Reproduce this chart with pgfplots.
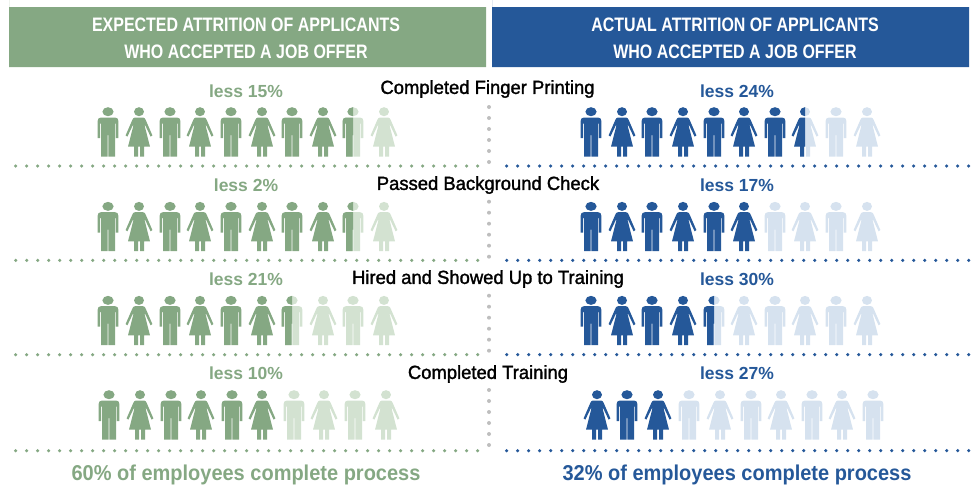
\documentclass[border=0pt]{standalone}
\usepackage{fontspec}
\usepackage{pgfplots}
\pgfplotsset{compat=1.18}
\setmainfont{Liberation Sans}
\newfontfamily\headf[FakeStretch=0.82]{Liberation Sans Bold}
\newfontfamily\lessf[FakeStretch=1.0]{Liberation Sans Bold}
\newfontfamily\stepf[FakeStretch=0.97,FakeBold=1.5]{Liberation Sans}
\newfontfamily\footf[FakeStretch=0.93]{Liberation Sans Bold}
\definecolor{gdark}{RGB}{133,168,131}
\definecolor{glight}{RGB}{211,226,209}
\definecolor{bdark}{RGB}{37,88,153}
\definecolor{blight}{RGB}{214,226,239}
\definecolor{gdot}{RGB}{190,190,190}
\newcommand\Mv[2]{\pgfpathmoveto{\pgfqpoint{#1pt}{#2pt}}}
\newcommand\Ln[2]{\pgfpathlineto{\pgfqpoint{#1pt}{#2pt}}}
\newcommand\Cv[6]{\pgfpathcurveto{\pgfqpoint{#1pt}{#2pt}}{\pgfqpoint{#3pt}{#4pt}}{\pgfqpoint{#5pt}{#6pt}}}
\newcommand\manpath{%
  \pgfpathellipse{\pgfqpoint{0pt}{20.3pt}}{\pgfqpoint{5.6pt}{0pt}}{\pgfqpoint{0pt}{4.5pt}}%
  \Mv{-0.4}{-3}\Ln{0.4}{-3}\Ln{0.4}{-24.5}\Ln{7}{-24.5}\Ln{7}{8.5}\Ln{7.8}{8.5}\Ln{7.8}{-6}\Ln{10.4}{-6}\Ln{10.4}{11}%
  \Cv{10.4}{13.3}{9}{14.5}{7}{14.5}\Ln{-7}{14.5}\Cv{-9}{14.5}{-10.4}{13.3}{-10.4}{11}%
  \Ln{-10.4}{-6}\Ln{-7.8}{-6}\Ln{-7.8}{8.5}\Ln{-7}{8.5}\Ln{-7}{-24.5}\Ln{-0.4}{-24.5}\pgfpathclose}
\newcommand\womanpath{%
  \pgfpathellipse{\pgfqpoint{0pt}{20.3pt}}{\pgfqpoint{5pt}{0pt}}{\pgfqpoint{0pt}{4.5pt}}%
  \Mv{-1}{-14.7}\Ln{1}{-14.7}\Ln{1}{-24.5}\Ln{5}{-24.5}\Ln{5}{-14.7}\Ln{11}{-14.7}\Ln{5.6}{6.5}\Ln{6.3}{6.5}%
  \Ln{11.6}{-4.6}\Ln{13.4}{-3.4}\Ln{6.8}{11.8}\Cv{6}{13.6}{5.5}{14.5}{4}{14.5}\Ln{-4}{14.5}\Cv{-5.5}{14.5}{-6}{13.6}{-6.8}{11.8}%
  \Ln{-13.4}{-3.4}\Ln{-11.6}{-4.6}\Ln{-6.3}{6.5}\Ln{-5.6}{6.5}\Ln{-11}{-14.7}\Ln{-5}{-14.7}\Ln{-5}{-24.5}\Ln{-1}{-24.5}\pgfpathclose}
\newcommand\halfclip{\pgfpathrectangle{\pgfqpoint{-20pt}{-30pt}}{\pgfqpoint{20pt}{60pt}}\pgfusepath{clip}}
\pgfdeclareplotmark{man}{\manpath\pgfusepath{fill}}
\pgfdeclareplotmark{woman}{\womanpath\pgfusepath{fill}}
\pgfdeclareplotmark{manhalf}{\begin{pgfscope}\halfclip\manpath\pgfusepath{fill}\end{pgfscope}}
\pgfdeclareplotmark{womanhalf}{\begin{pgfscope}\halfclip\womanpath\pgfusepath{fill}\end{pgfscope}}
\tikzset{stepl/.style={text=black,font=\stepf\fontsize{19}{19}\selectfont},
 lessg/.style={text=gdark,font=\lessf\fontsize{17.5}{17}\selectfont},
 lessb/.style={text=bdark,font=\lessf\fontsize{17.5}{17}\selectfont},
 footl/.style={font=\footf\fontsize{21.5}{21}\selectfont},
 headl/.style={text=white,font=\headf\fontsize{19.5}{19}\selectfont}}
\pgfplotsset{dotrule/.style={line width=3.5pt,line cap=round,dash pattern=on 0pt off 11pt}}
\begin{document}
\begin{tikzpicture}
\begin{axis}[
  scale only axis, width=975pt, height=487pt,
  xmin=0, xmax=975, ymin=0, ymax=487, y dir=reverse,
  hide axis, clip=false,
  every axis plot/.append style={forget plot},
]
\path (axis cs:0,0) (axis cs:975,487);
% headers
\addplot[fill=gdark,draw=none] coordinates {(9,7)(486,7)(486,67)(9,67)} \closedcycle;
\addplot[fill=bdark,draw=none] coordinates {(492,7)(969,7)(969,67)(492,67)} \closedcycle;
% dotted rules
\addplot[dotrule,gdark] coordinates {(15.7,166)(478,166)};
\addplot[dotrule,gdark] coordinates {(15.7,260.3)(478,260.3)};
\addplot[dotrule,gdark] coordinates {(15.7,354.7)(478,354.7)};
\addplot[dotrule,gdark] coordinates {(15.7,450.7)(478,450.7)};
\addplot[dotrule,bdark] coordinates {(506.7,166)(969,166)};
\addplot[dotrule,bdark] coordinates {(506.7,260.3)(969,260.3)};
\addplot[dotrule,bdark] coordinates {(506.7,354.7)(969,354.7)};
\addplot[dotrule,bdark] coordinates {(506.7,450.7)(969,450.7)};
\addplot[dotrule,gdot,line width=4pt] coordinates {(489,107)(489,162.1)};
\addplot[dotrule,gdot,line width=4pt] coordinates {(489,201.7)(489,256.8)};
\addplot[dotrule,gdot,line width=4pt] coordinates {(489,295.7)(489,350.8)};
\addplot[dotrule,gdot,line width=4pt] coordinates {(489,390)(489,445.1)};
% light icons
\addplot[only marks,mark=man,mark options={fill=glight,draw=none}] coordinates {
 (353,132)(353,226.7)(292,320.7)(353,320.7)(294,415)(355,415)};
\addplot[only marks,mark=woman,mark options={fill=glight,draw=none}] coordinates {
 (384,132)(384,226.7)(323,320.7)(384,320.7)(324,415)(386,415)};
\addplot[only marks,mark=man,mark options={fill=blight,draw=none}] coordinates {
 (836,132)(775,226.7)(836,226.7)(714,320.7)(775,320.7)(836,320.7)(689,415)(751,415)(812,415)(873,415)};
\addplot[only marks,mark=woman,mark options={fill=blight,draw=none}] coordinates {
 (805,132)(867,132)(805,226.7)(867,226.7)(744,320.7)(805,320.7)(867,320.7)(720,415)(781,415)(842,415)};
% dark icons
\addplot[only marks,mark=man,mark options={fill=gdark,draw=none}] coordinates {
 (108,132)(170,132)(231,132)(292,132)
 (108,226.7)(170,226.7)(231,226.7)(292,226.7)
 (108,320.7)(170,320.7)(231,320.7)
 (109,415)(171,415)(232,415)};
\addplot[only marks,mark=woman,mark options={fill=gdark,draw=none}] coordinates {
 (139,132)(200,132)(262,132)(323,132)
 (139,226.7)(200,226.7)(262,226.7)(323,226.7)
 (139,320.7)(200,320.7)(262,320.7)
 (140,415)(201,415)(262,415)};
\addplot[only marks,mark=man,mark options={fill=bdark,draw=none}] coordinates {
 (591,132)(652,132)(714,132)(775,132)
 (591,226.7)(652,226.7)(714,226.7)
 (591,320.7)(652,320.7)
 (627,415)};
\addplot[only marks,mark=woman,mark options={fill=bdark,draw=none}] coordinates {
 (622,132)(683,132)(744,132)
 (622,226.7)(683,226.7)(744,226.7)
 (622,320.7)(683,320.7)
 (597,415)(658,415)};
% half icons
\addplot[only marks,mark=manhalf,mark options={fill=gdark,draw=none}] coordinates {(353,132)(353,226.7)(292,320.7)};
\addplot[only marks,mark=manhalf,mark options={fill=bdark,draw=none}] coordinates {(714,320.7)};
\addplot[only marks,mark=womanhalf,mark options={fill=bdark,draw=none}] coordinates {(805,132)};
% header text
\node[headl] at (axis cs:246,25) {EXPECTED ATTRITION OF APPLICANTS};
\node[headl] at (axis cs:246,52) {WHO ACCEPTED A JOB OFFER};
\node[headl] at (axis cs:735,25) {ACTUAL ATTRITION OF APPLICANTS};
\node[headl] at (axis cs:735,52) {WHO ACCEPTED A JOB OFFER};
% step labels
\node[stepl] at (axis cs:487.5,89) {Completed Finger Printing};
\node[stepl] at (axis cs:488,185) {Passed Background Check};
\node[stepl] at (axis cs:488,279) {Hired and Showed Up to Training};
\node[stepl] at (axis cs:488,374) {Completed Training};
\node[lessg] at (axis cs:246,91) {less 15\%};
\node[lessg] at (axis cs:246,185) {less 2\%};
\node[lessg] at (axis cs:246,279) {less 21\%};
\node[lessg] at (axis cs:246,373) {less 10\%};
\node[lessb] at (axis cs:737,91) {less 24\%};
\node[lessb] at (axis cs:737,185) {less 17\%};
\node[lessb] at (axis cs:737,279) {less 30\%};
\node[lessb] at (axis cs:737,373) {less 27\%};
\node[footl,text=gdark] at (axis cs:246,475) {60\% of employees complete process};
\node[footl,text=bdark] at (axis cs:737,475) {32\% of employees complete process};
\end{axis}
\end{tikzpicture}
\end{document}
